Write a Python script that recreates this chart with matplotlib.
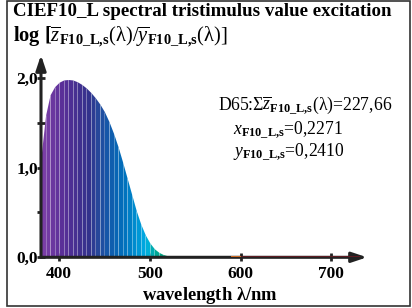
import numpy as np
import matplotlib
matplotlib.use('Agg')
import matplotlib.pyplot as plt
from matplotlib.colors import LinearSegmentedColormap

plt.rcParams['font.family'] = 'Liberation Serif'
plt.rcParams['mathtext.fontset'] = 'custom'
plt.rcParams['mathtext.rm'] = 'Liberation Serif'
plt.rcParams['mathtext.it'] = 'Liberation Serif:italic'
plt.rcParams['mathtext.bf'] = 'Liberation Serif:bold'

# data
wavelength = [380, 385, 390, 395, 400, 405, 410, 415, 420, 425, 430, 435, 440,
              445, 450, 455, 460, 465, 470, 475, 480, 485, 490, 495, 500, 505,
              510, 515, 520, 525, 530, 535, 540]
log_ratio = [1.12, 1.58, 1.81, 1.90, 1.95, 1.975, 1.98, 1.975, 1.955, 1.925, 1.885,
             1.835, 1.775, 1.705, 1.62, 1.51, 1.38, 1.23, 1.06, 0.88, 0.70, 0.52,
             0.37, 0.25, 0.16, 0.095, 0.055, 0.03, 0.016, 0.008, 0.004, 0.002, 0.0]
x_ticks = [400, 500, 600, 700]
y_ticks = [0.0, 1.0, 2.0]
y_ticklabels = ['0,0', '1,0', '2,0']
y_minor = [0.5, 1.5]

# spectral colours for the strips
spec_nm = [380, 400, 420, 430, 440, 450, 460, 470, 480, 490, 495, 500, 505, 515, 530, 545]
spec_col = ['#7a3ea6', '#5a2f98', '#40308f', '#33328c', '#27479a', '#1657a8', '#0865b4',
            '#0073be', '#008acd', '#00a6e0', '#00b0da', '#00acb4', '#00a794', '#00a174',
            '#1c9c62', '#2f8048']
cmap = LinearSegmentedColormap.from_list(
    'spec', [((n - 380) / (545 - 380), c) for n, c in zip(spec_nm, spec_col)])

W, H = 412, 308
fig = plt.figure(figsize=(W / 100, H / 100), dpi=100)

# axes placement in pixels
x0_px, x1_px = 41, 367
y0_px, y1_px = 257.3, 55
px_per_nm = 0.907
px_per_unit = 89.8
ax = fig.add_axes([x0_px / W, 1 - y0_px / H, (x1_px - x0_px) / W, (y0_px - y1_px) / H])
ax.set_xlim(380, 380 + (x1_px - x0_px) / px_per_nm)
ax.set_ylim(0, (y0_px - y1_px) / px_per_unit)
for s in ax.spines.values():
    s.set_visible(False)
ax.patch.set_visible(False)

# coloured strips
for i in range(len(wavelength) - 1):
    c = cmap((wavelength[i] - 380) / (545 - 380))
    ax.fill_between(wavelength[i:i + 2], 0, log_ratio[i:i + 2], color=c, lw=0, zorder=2)
ax.vlines(wavelength[1:-4], 0, log_ratio[1:-4], color='white', alpha=0.3, lw=0.6, zorder=3)

# axes with arrows
arrow = dict(arrowstyle='-|>,head_length=0.9,head_width=0.3', lw=2.2,
             color='#222222', shrinkA=0, shrinkB=0)
ax.annotate('', xy=(1, 0), xytext=(0, 0), xycoords='axes fraction', arrowprops=arrow, zorder=4)
ax.annotate('', xy=(0, 1), xytext=(0, 0), xycoords='axes fraction', arrowprops=arrow, zorder=4)
ax.plot([590, 600], [0, 0], color='#f07820', lw=1.2, zorder=5, solid_capstyle='butt')
ax.plot([600, 732], [0, 0], color='#6a1a22', lw=1.2, zorder=5, solid_capstyle='butt')

ax.set_xticks(x_ticks)
ax.set_xticklabels([str(t) for t in x_ticks], fontsize=12.5, fontweight='bold')
ax.set_yticks(y_ticks)
ax.set_yticklabels(y_ticklabels, fontsize=12.5, fontweight='bold')
ax.set_yticks(y_minor, minor=True)
ax.tick_params(axis='x', direction='inout', length=6, width=2, color='#222222', pad=3)
ax.tick_params(axis='y', which='both', direction='inout', length=6, width=2,
               color='#222222', pad=-1)
ax.tick_params(axis='x', which='minor', bottom=False)

# frame
fig.patches.append(plt.Rectangle((7 / W, 1 - 306 / H), 403 / W, 305 / H,
                                 transform=fig.transFigure, fill=False,
                                 ec='#333333', lw=1.2))

# titles
fig.text(13 / W, 1 - 15.5 / H, 'CIEF10_L spectral tristimulus value excitation',
         fontsize=13.6, fontweight='bold', va='baseline', ha='left')
fig.text(13 / W, 1 - 42 / H,
         r'$\mathbf{log\ [}\overline{z}_{\mathbf{F10\_L{,}s}}(\mathrm{\lambda})/'
         r'\overline{y}_{\mathbf{F10\_L{,}s}}(\mathrm{\lambda})]$',
         fontsize=14.8, va='baseline', ha='left')

# annotation
fig.text(218 / W, 1 - 110.7 / H,
         r'D65:Σ$\overline{z}_{\mathbf{F10\_L{,}s}}(\mathrm{\lambda})$=227,66',
         fontsize=12.7, va='baseline', ha='left')
fig.text(233 / W, 1 - 134 / H, r'$x_{\mathbf{F10\_L{,}s}}$=0,2271',
         fontsize=12.7, va='baseline', ha='left')
fig.text(233 / W, 1 - 156 / H, r'$y_{\mathbf{F10\_L{,}s}}$=0,2410',
         fontsize=12.7, va='baseline', ha='left')

fig.text(210 / W, 1 - 300 / H, r'wavelength $\mathbf{\lambda}$/nm',
         fontsize=13.3, fontweight='bold', va='baseline', ha='center')

fig.savefig('out.png', dpi=100)
